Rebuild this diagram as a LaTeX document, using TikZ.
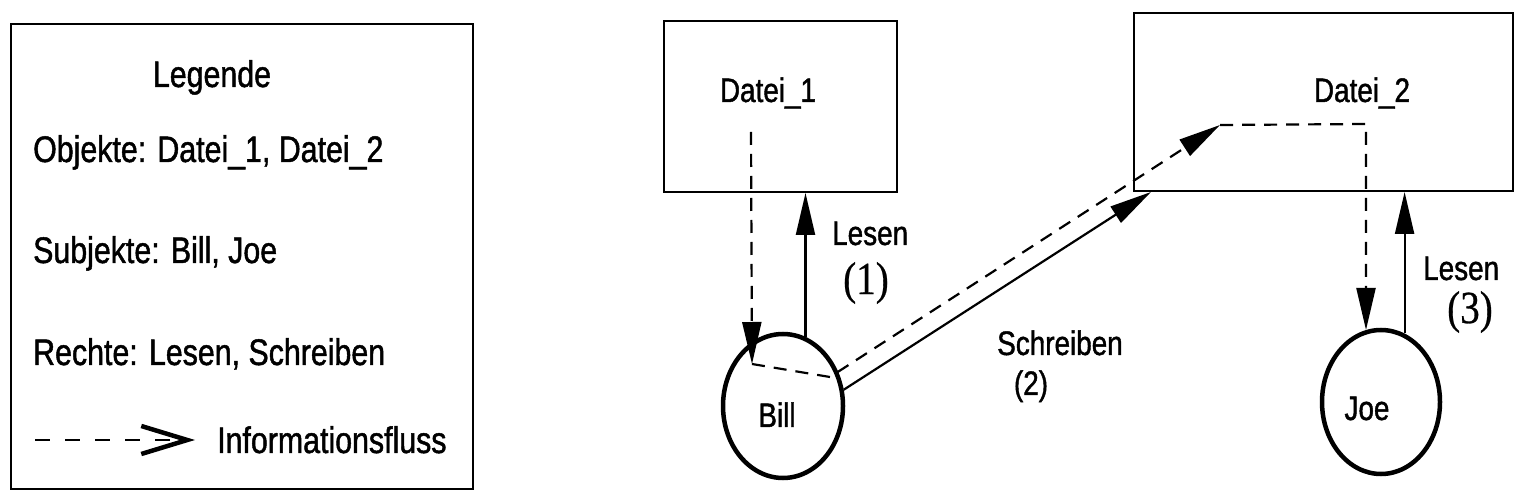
\documentclass[tikz,border=0pt]{standalone}
\usepackage{fontspec}
\setmainfont{Liberation Sans}[FakeStretch=0.82,FakeBold=1.2]
\newfontfamily\numfont{Liberation Serif}[FakeStretch=0.85,FakeBold=0.6]
\usetikzlibrary{arrows.meta,shapes.geometric,calc}
\begin{document}
\begin{tikzpicture}[x=1pt,y=-1pt,
  boxnode/.style={draw, line width=2pt, inner sep=0pt},
  subj/.style={draw, ellipse, line width=4.5pt, inner sep=0pt},
  legtext/.style={font=\fontsize{37}{42}\selectfont, inner sep=0pt},
  diagtext/.style={font=\fontsize{34}{38}\selectfont, inner sep=0pt},
  numtext/.style={font=\numfont\fontsize{46}{50}\selectfont, inner sep=0pt},
  head/.style={-{Triangle[length=42pt,width=19pt]}},
  rightarrow/.style={head, line width=2.2pt},
  infoarrow/.style={line width=2.2pt, dash pattern=on 13pt off 9pt},
  legendflow/.style={line width=2pt, dash pattern=on 15pt off 15pt,
    -{Straight Barb[length=46pt,width=28pt,line width=4.5pt]}}
]
\useasboundingbox[fill=white] (0,0) rectangle (1527,502);

% Legend
\node[boxnode, minimum width=462pt, minimum height=465pt] (legend) at (242,256.5) {};
\node[legtext, anchor=base] (legtitle) at (212,87) {Legende};
\node[legtext, anchor=base west] (legobj) at (33,162) {Objekte: Datei\_1, Datei\_2};
\node[legtext, anchor=base west] (legsubj) at (33,263) {Subjekte: Bill, Joe};
\node[legtext, anchor=base west] (legrecht) at (33,365) {Rechte: Lesen, Schreiben};
\coordinate (lf1) at (35,440);
\coordinate (lf2) at (195,440);
\draw[legendflow] (lf1) -- (lf2);
\node[legtext, anchor=base west] (leginfo) at (217,453) {Informationsfluss};

% Objects
\node[boxnode, minimum width=233pt, minimum height=171pt] (d1) at (780.5,106.5) {};
\node[diagtext, anchor=base] (d1text) at (768,102) {Datei\_1};
\node[boxnode, minimum width=379pt, minimum height=178pt] (d2) at (1323.5,102) {};
\node[diagtext, anchor=base] (d2text) at (1362,102) {Datei\_2};

% Subjects
\node[subj, minimum width=120pt, minimum height=144pt] (bill) at (783,406) {};
\node[diagtext, anchor=base] (billtext) at (777,427) {Bill};
\node[subj, minimum width=118pt, minimum height=144pt] (joe) at (1381,402) {};
\node[diagtext, anchor=base] (joetext) at (1367,420) {Joe};

% Rights
\draw[rightarrow] (bill.72) -- (bill.72 |- d1.south);
\draw[rightarrow] (bill.15) -- ($(d2.south west)+(18,0)$);
\draw[rightarrow] (joe.71) -- (joe.71 |- d2.south);

% Labels
\node[diagtext, anchor=base west] (l1) at (832,245) {Lesen};
\node[numtext] (n1) at (866,283) {(1)};
\node[diagtext, anchor=base] (l2) at (1060,355) {Schreiben};
\node[diagtext, anchor=base] (n2) at (1031,395) {(2)};
\node[diagtext, anchor=base west] (l3) at (1423,280) {Lesen};
\node[numtext] (n3) at (1470,312) {(3)};

% Information flow
\coordinate (f1) at (751,132);
\coordinate (f2) at (752,364);
\coordinate (f3) at (830,377);
\coordinate (f4) at (1220,125);
\coordinate (f5) at (1366,124);
\coordinate (f6) at (1366,330);
\draw[infoarrow, head] (f1) -- (f2);
\draw[infoarrow, head] (f2) -- (f3) -- (f4);
\draw[infoarrow, head] (f4) -- (f5) -- (f6);
\end{tikzpicture}
\end{document}
